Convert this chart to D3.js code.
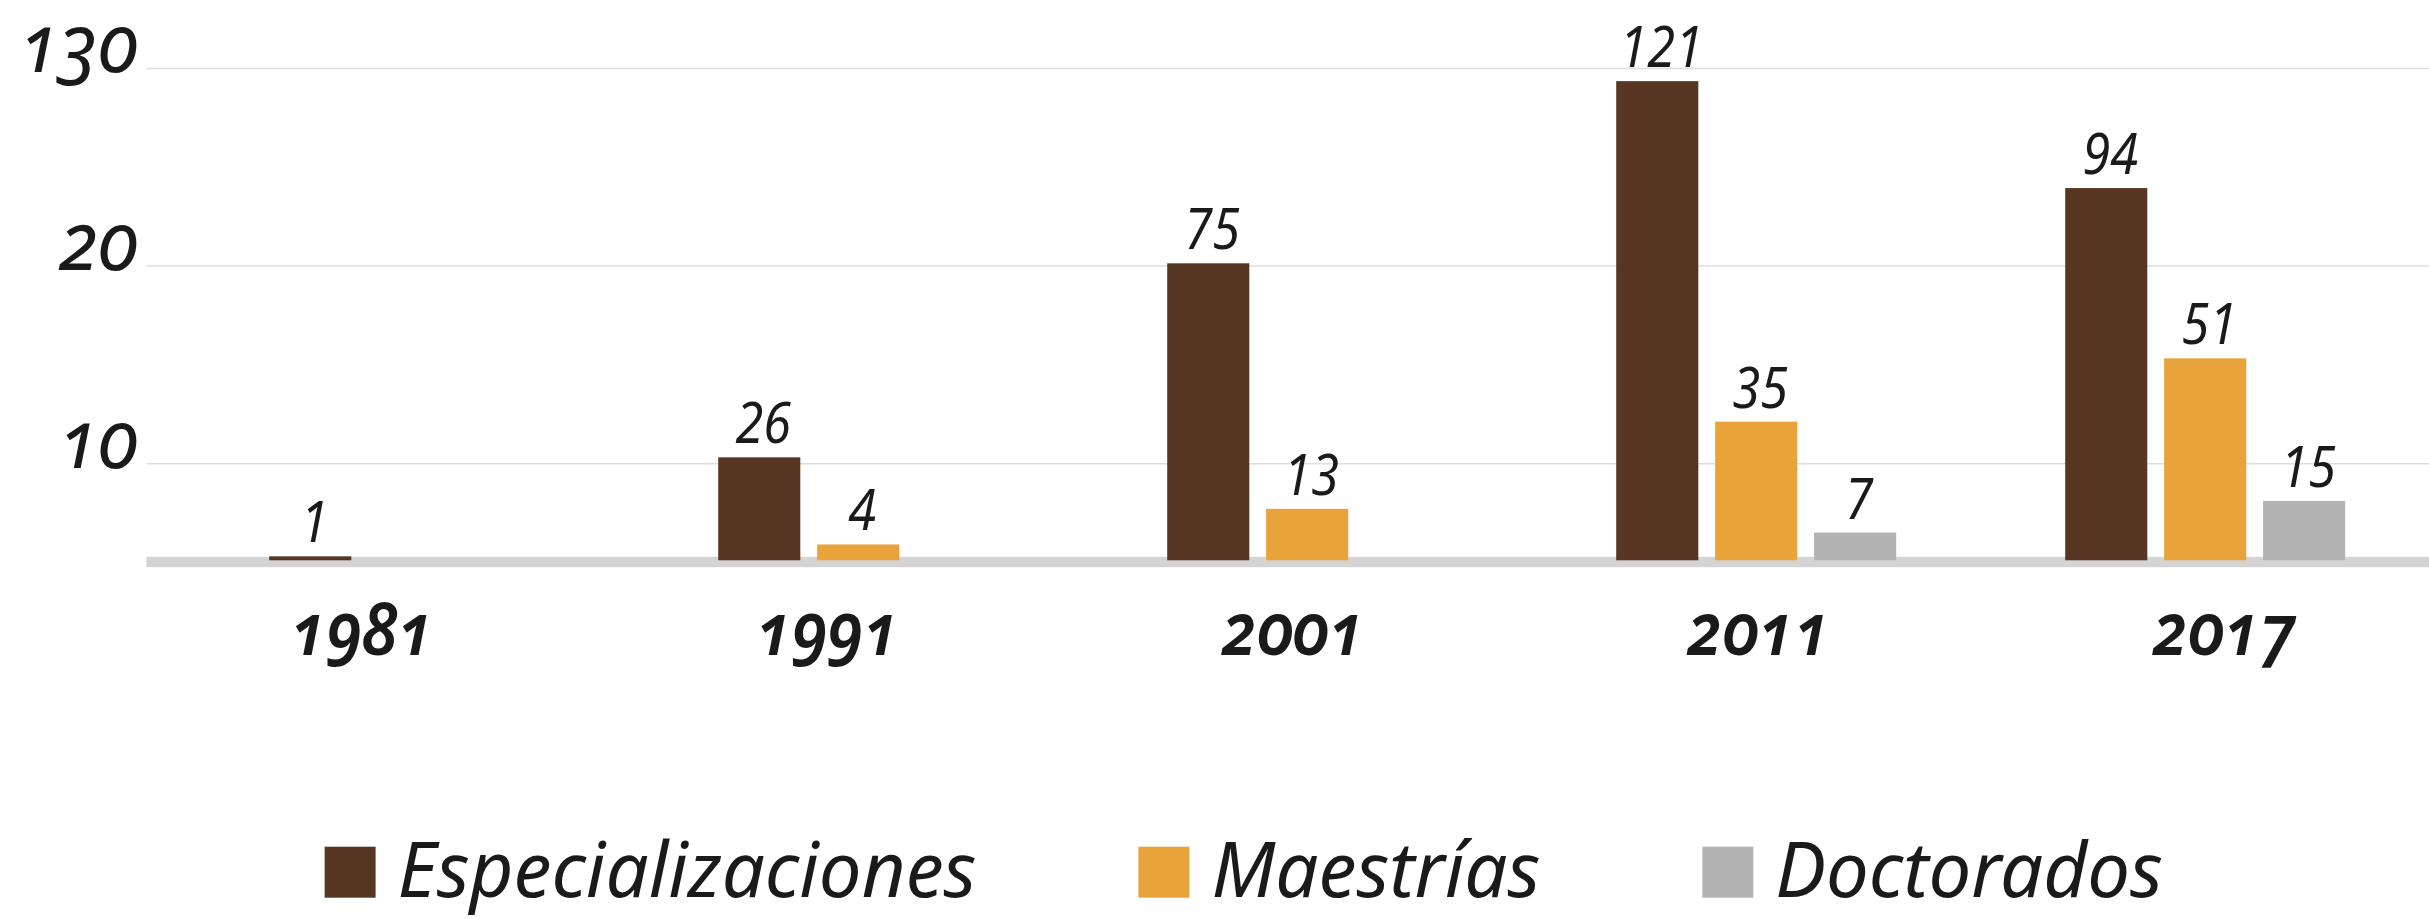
<!DOCTYPE html>
<html><head><meta charset="utf-8">
<script src="https://cdn.jsdelivr.net/npm/d3@7/dist/d3.min.js"></script>
<style>
html,body{margin:0;padding:0;background:#fff;}
svg{display:block;}
text{font-family:"Noto Sans","Open Sans",sans-serif;font-style:italic;fill:#1a1a1a;}
</style></head>
<body>
<svg id="chart" width="2429" height="919"></svg>
<script>
// ---- data ----
const years = ["1981", "1991", "2001", "2011", "2017"];
const seriesNames = ["Especializaciones", "Maestrías", "Doctorados"];
const especializaciones = [1, 26, 75, 121, 94];
const maestrias = [null, 4, 13, 35, 51];
const doctorados = [null, null, null, 7, 15];
const tickValues = [24.4, 74.3, 124.2];
const tickLabels = ["10", "20", "130"];

const colors = ["#573723", "#E9A33B", "#B3B3B3"];
const seriesValues = [especializaciones, maestrias, doctorados];

const W = 2429, H = 919;
const svg = d3.select("#chart");
const plotLeft = 146.4;

const x0 = d3.scaleBand().domain(years)
  .range([plotLeft, plotLeft + 449 * 5.1706])
  .paddingInner(0.3764).paddingOuter(0.2735);
const x1 = d3.scaleBand().domain(seriesNames)
  .range([0, x0.bandwidth()]).paddingInner(0.17).paddingOuter(0);
const y = d3.scaleLinear().domain([0, 130]).range([560.3, 560.3 - 130 * 3.96]);
const xLabel = d3.scalePoint().domain(years).range([362, 2224]);

function ctext(sel, x, yy, k) {
  return sel.attr("transform", `translate(${x},${yy}) scale(${k},1)`);
}

// gridlines
svg.append("g").selectAll("line").data(tickValues).join("line")
  .attr("x1", plotLeft).attr("x2", W)
  .attr("y1", d => y(d)).attr("y2", d => y(d))
  .attr("stroke", "#dedede").attr("stroke-width", 1.6);

// tick labels
svg.append("g").selectAll("text").data(tickValues).join("text")
  .each(function(d) { ctext(d3.select(this), 138, y(d) + 4, 0.96); })
  .attr("text-anchor", "end")
  .style("font-size", "80px")
  .style("font-variant-numeric", "oldstyle-nums")
  .text((d, i) => tickLabels[i]);

// baseline band
svg.append("rect").attr("x", plotLeft).attr("width", W - plotLeft)
  .attr("y", y(0) - 3.5).attr("height", 10.4).attr("fill", "#d4d4d4");

// bars
const flat = [];
years.forEach((yr, i) => {
  seriesNames.forEach((s, j) => {
    const v = seriesValues[j][i];
    if (v !== null && v !== undefined) flat.push({year: yr, series: s, j, value: v});
  });
});

svg.append("g").selectAll("rect").data(flat).join("rect")
  .attr("x", d => x0(d.year) + x1(d.series))
  .attr("width", x1.bandwidth())
  .attr("y", d => y(d.value))
  .attr("height", d => y(0) - y(d.value))
  .attr("fill", d => colors[d.j]);

// value labels
svg.append("g").selectAll("text").data(flat).join("text")
  .each(function(d) {
    ctext(d3.select(this), x0(d.year) + x1(d.series) + x1.bandwidth() / 2 + 4, y(d.value) - 14, 0.9);
  })
  .attr("text-anchor", "middle")
  .style("font-size", "56px")
  .style("font-variant-numeric", "lining-nums")
  .text(d => d.value);

// year labels
svg.append("g").selectAll("text").data(years).join("text")
  .each(function(d) { ctext(d3.select(this), xLabel(d), 655, 0.92); })
  .attr("text-anchor", "middle")
  .style("font-size", "72px")
  .style("font-weight", "600")
  .style("font-variant-numeric", "oldstyle-nums")
  .text(d => d);

// legend
const legend = svg.append("g");
let lx = 324.6;
seriesNames.forEach((s, j) => {
  legend.append("rect").attr("x", lx).attr("y", 846.7).attr("width", 51).attr("height", 51)
    .attr("fill", colors[j]);
  const t = legend.append("text")
    .style("font-size", "76px").style("font-weight", "400")
    .text(s);
  ctext(t, lx + 51 + 22, 897, 1.0);
  const w = t.node().getComputedTextLength();
  lx += 51 + 22 + w + 162;
});
</script>
</body></html>
